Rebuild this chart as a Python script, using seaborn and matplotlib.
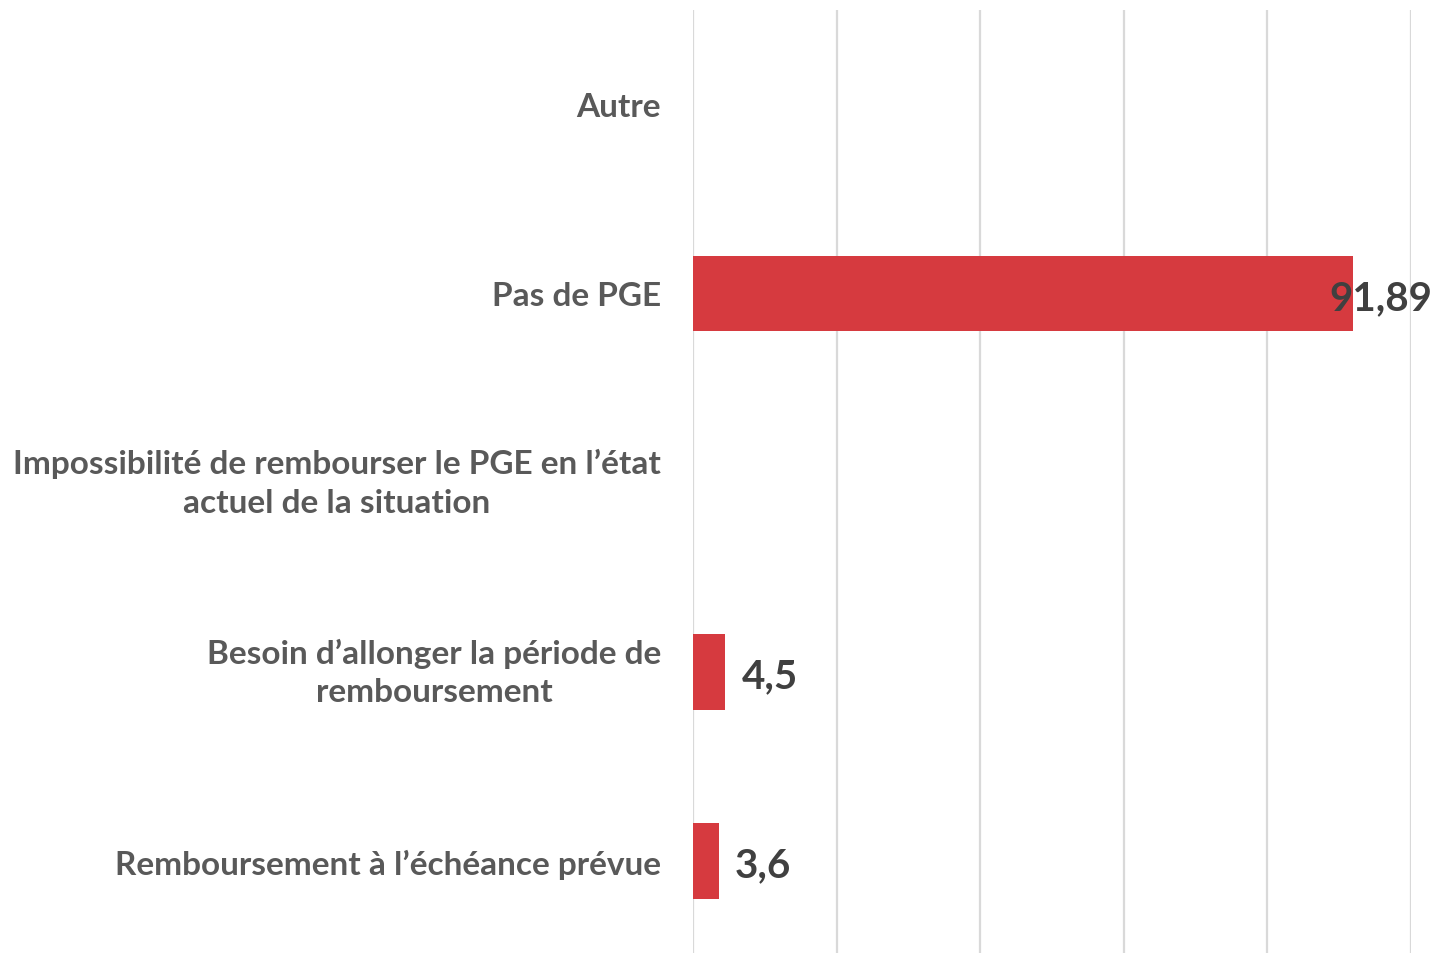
import matplotlib
matplotlib.use("Agg")
import matplotlib.pyplot as plt
import seaborn as sns
import pandas as pd

categories = [
    "Autre",
    "Pas de PGE",
    "Impossibilité de rembourser le PGE en l’état\nactuel de la situation",
    "Besoin d’allonger la période de\nremboursement",
    "Remboursement à l’échéance prévue",
]
values = [0.0, 91.89, 0.0, 4.5, 3.6]
value_labels = ["", "91,89", "", "4,5", "3,6"]

df = pd.DataFrame({"cat": categories, "val": values})

sns.set_theme(style="white")
plt.rcParams["font.family"] = ["Lato", "DejaVu Sans"]

W, H = 1438, 954
fig = plt.figure(figsize=(W / 100, H / 100), dpi=100)
ax_top, ax_bottom = 10.7, 956.6
ax = fig.add_axes([693 / W, 1 - ax_bottom / H, (1411 - 693) / W, (ax_bottom - ax_top) / H])

sns.barplot(data=df, y="cat", x="val", orient="h", color="#D63A3F",
            saturation=1, width=0.4, linewidth=0, ax=ax, zorder=3)

ax.set_xlim(0, 100)
ax.set_xticks([0, 20, 40, 60, 80, 100])
ax.xaxis.grid(True, color="#D9D9D9", linewidth=1.6, zorder=0)
ax.yaxis.grid(False)
ax.tick_params(axis="x", length=0, labelbottom=False)
ax.tick_params(axis="y", length=0, pad=23)
ax.set_xlabel("")
ax.set_ylabel("")
for s in ax.spines.values():
    s.set_visible(False)

for lbl in ax.get_yticklabels():
    lbl.set_fontsize(24)
    lbl.set_fontweight("bold")
    lbl.set_color("#595959")
    lbl.set_multialignment("center")
    lbl.set_linespacing(1.4)
    if "\n" in lbl.get_text():
        lbl.set_verticalalignment("center")

for i, (v, t) in enumerate(zip(values, value_labels)):
    if not t:
        continue
    big = v > 85
    ax.annotate(t, xy=(v, i),
                xytext=((80 if big else 16) * 0.72, -3),
                textcoords="offset points",
                ha="right" if big else "left", va="center",
                fontsize=29, fontweight="bold", color="#404040",
                annotation_clip=False, zorder=5)

fig.savefig("out.png", dpi=100)
